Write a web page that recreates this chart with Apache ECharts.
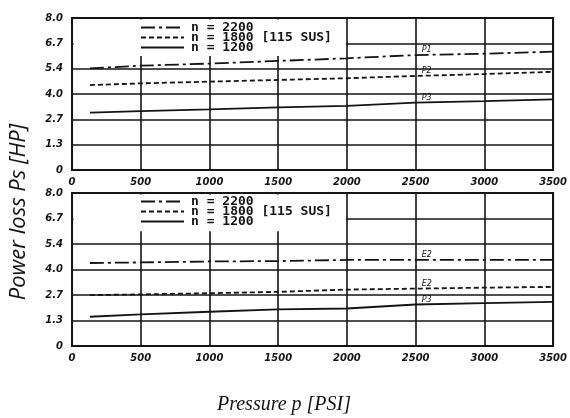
<!DOCTYPE html>
<html><head><meta charset="utf-8">
<script src="https://cdn.jsdelivr.net/npm/echarts@6/dist/echarts.min.js"></script>
<style>html,body{margin:0;padding:0;background:#fff}#c{width:570px;height:418px}</style>
</head><body><div id="c"></div>
<script>
// ---- data ----
const pressure = [130, 500, 1000, 1500, 2000, 2500, 3000, 3500];
const seriesNames = ['n = 2200', 'n = 1800 [115 SUS]', 'n = 1200'];
const top2200 = [5.35, 5.49, 5.60, 5.74, 5.88, 6.05, 6.12, 6.23];
const top1800 = [4.47, 4.56, 4.65, 4.74, 4.83, 4.95, 5.05, 5.17];
const top1200 = [3.02, 3.10, 3.19, 3.30, 3.37, 3.55, 3.63, 3.72];
const bot2200 = [4.34, 4.37, 4.42, 4.44, 4.50, 4.50, 4.50, 4.50];
const bot1800 = [2.66, 2.70, 2.76, 2.83, 2.95, 3.00, 3.05, 3.09];
const bot1200 = [1.53, 1.65, 1.79, 1.91, 1.96, 2.17, 2.24, 2.31];
const topTags = ['P1', 'P2', 'P3'];
const botTags = ['E2', 'E2', 'P3'];
const yTickLabels = ['0', '1.3', '2.7', '4.0', '5.4', '6.7', '8.0'];
const xTickLabels = ['0', '500', '1000', '1500', '2000', '2500', '3000', '3500'];
const tagAt = 2500;

const INK = '#141414';
const dashes = [[14, 4, 3, 4], [5, 3], 'solid'];

function mkSeries(idx, vals, k, tag) {
  const ti = pressure.indexOf(tagAt);
  return {
    name: seriesNames[k], type: 'line', xAxisIndex: idx, yAxisIndex: idx,
    data: pressure.map((p, i) => [p, vals[i]]),
    symbol: 'none', showSymbol: false, animation: false, z: 3,
    lineStyle: { color: INK, width: 1.8, type: dashes[k] },
    itemStyle: { color: INK },
    markPoint: {
      symbol: 'circle', symbolSize: 0, silent: true, animation: false,
      data: [{ coord: [tagAt, vals[ti]], value: tag,
        label: { show: true, formatter: tag, position: [6, -9], fontSize: 8, fontStyle: 'italic',
          fontFamily: 'DejaVu Sans', color: INK } }]
    }
  };
}

const tickFont = { fontFamily: 'DejaVu Sans', fontWeight: 'bold', fontStyle: 'italic', fontSize: 10, color: INK };

function xAx(idx) {
  return {
    gridIndex: idx, type: 'value', min: 0, max: 3500, interval: 500,
    axisLine: { show: false }, axisTick: { show: false },
    splitLine: { show: true, lineStyle: { color: INK, width: 1.6 } },
    axisLabel: Object.assign({ margin: 7, formatter: v => xTickLabels[Math.round(v / 500)] }, tickFont)
  };
}
function yAx(idx) {
  return {
    gridIndex: idx, type: 'value', min: 0, max: 8, interval: 4 / 3,
    axisLine: { show: false }, axisTick: { show: false },
    splitLine: { show: true, lineStyle: { color: INK, width: 1.6 } },
    axisLabel: Object.assign({ margin: 9, formatter: v => yTickLabels[Math.round(v / (4 / 3))] }, tickFont)
  };
}

const legendCommon = {
  left: 140, orient: 'vertical', itemWidth: 43, itemHeight: 10, itemGap: -3,
  data: seriesNames, selectedMode: false,
  itemStyle: { color: 'rgba(0,0,0,0)', borderWidth: 0, opacity: 0 },
  textStyle: { fontFamily: 'DejaVu Sans Mono', fontWeight: 'bold', fontSize: 13, lineHeight: 11, color: INK, padding: [0, 0, 0, 2] },
  padding: 0
};

const chart = echarts.init(document.getElementById('c'), null, { renderer: 'canvas' });
chart.setOption({
  backgroundColor: '#fff',
  animation: false,
  grid: [
    { left: 72, top: 18, width: 483, height: 152, show: true, borderColor: INK, borderWidth: 2, backgroundColor: 'transparent' },
    { left: 72, top: 193, width: 483, height: 153, show: true, borderColor: INK, borderWidth: 2, backgroundColor: 'transparent' }
  ],
  xAxis: [xAx(0), xAx(1)],
  yAxis: [yAx(0), yAx(1)],
  legend: [Object.assign({ top: 21 }, legendCommon), Object.assign({ top: 195 }, legendCommon)],
  series: [
    mkSeries(0, top2200, 0, topTags[0]), mkSeries(0, top1800, 1, topTags[1]), mkSeries(0, top1200, 2, topTags[2]),
    mkSeries(1, bot2200, 0, botTags[0]), mkSeries(1, bot1800, 1, botTags[1]), mkSeries(1, bot1200, 2, botTags[2])
  ]
});

// blank legend area (gridlines interrupted behind the legend)
const blanks = [0, 1].map(g => {
  const a = chart.convertToPixel({ gridIndex: g }, [0, 8]);
  const b = chart.convertToPixel({ gridIndex: g }, [2000, 6.0]);
  return { type: 'rect', z: 1, silent: true,
    shape: { x: a[0] + 1.5, y: a[1] + 1.5, width: b[0] - a[0] - 2.5, height: b[1] - a[1] - 1.5 },
    style: { fill: '#fff' } };
});

chart.setOption({
  graphic: blanks.concat([
    { type: 'text', z: 5, rotation: Math.PI / 2, position: [19, 212],
      style: { text: 'Power loss Ps [HP]', font: 'italic 22px "Open Sans"', fill: INK, textAlign: 'center', textVerticalAlign: 'middle' } },
    { type: 'text', z: 5, position: [284, 405],
      style: { text: 'Pressure p [PSI]', font: 'italic 20px "Liberation Serif"', fill: INK, textAlign: 'center', textVerticalAlign: 'middle' } }
  ])
});
</script></body></html>
